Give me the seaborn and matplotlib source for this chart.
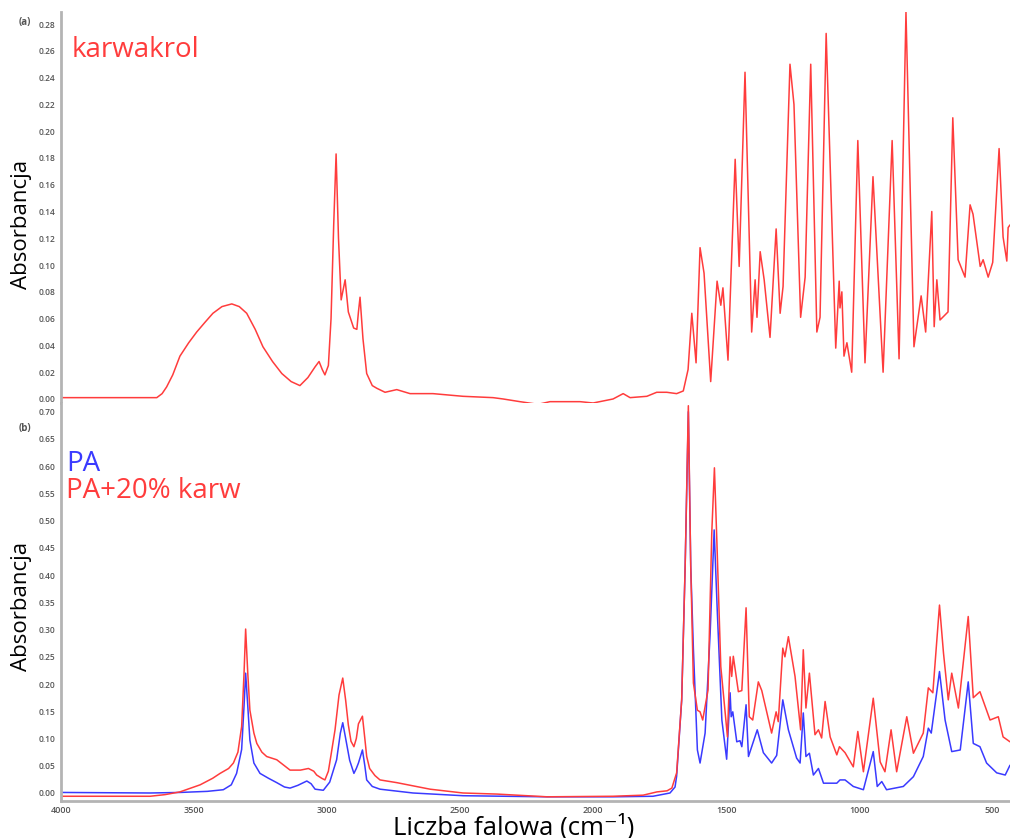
import numpy as np
import pandas as pd
import matplotlib
matplotlib.use("Agg")
import matplotlib.pyplot as plt
from matplotlib.ticker import MultipleLocator, FormatStrFormatter
import seaborn as sns

# ---------------- data (wavenumber cm-1, absorbance) ----------------
karw_wn = [4000, 3853, 3640, 3620, 3603, 3580, 3553, 3520, 3490, 3460, 3429, 3395, 3358, 3330,
           3302, 3270, 3241, 3205, 3170, 3135, 3102, 3072, 3045, 3030, 3018, 3008, 2995, 2985,
           2975, 2966, 2957, 2947, 2932, 2920, 2900, 2888, 2882, 2876, 2865, 2851, 2830, 2813,
           2782, 2738, 2688, 2602,
           2489, 2376, 2338, 2275, 2207, 2162, 2049, 2000, 1925, 1887, 1861, 1798, 1761, 1723,
           1686, 1661, 1643, 1629, 1613, 1598, 1583, 1558, 1534, 1520, 1512, 1493, 1466, 1451,
           1429, 1404, 1391, 1384, 1372, 1357, 1335, 1312, 1297, 1286, 1260, 1245, 1220, 1203,
           1182, 1159, 1147, 1124, 1088, 1075, 1072, 1065, 1057, 1046, 1028, 1005, 978, 948,
           910, 876, 850, 824, 794, 767, 750, 727, 718, 708, 696, 666, 648, 628, 602, 583,
           572, 545, 534, 515, 498, 474, 459, 445, 440, 433]
karw_abs = [0.001, 0.001, 0.001, 0.004, 0.009, 0.018, 0.032, 0.042, 0.050, 0.057, 0.064, 0.069,
            0.071, 0.069, 0.064, 0.052, 0.039, 0.028, 0.019, 0.013, 0.010, 0.016, 0.024, 0.028,
            0.022, 0.018, 0.025, 0.060, 0.130, 0.183, 0.120, 0.074, 0.089, 0.065, 0.053, 0.052,
            0.065, 0.076, 0.045, 0.019, 0.010, 0.008,
            0.005, 0.007, 0.004, 0.004, 0.002, 0.001, 0.000, -0.002, -0.004, -0.002, -0.002,
            -0.003, 0.000, 0.004, 0.001, 0.002, 0.005, 0.005, 0.004, 0.006, 0.022, 0.064,
            0.027, 0.113, 0.094, 0.013, 0.088, 0.070, 0.083, 0.029, 0.179, 0.099, 0.244, 0.050,
            0.089, 0.061, 0.110, 0.089, 0.046, 0.127, 0.064, 0.084, 0.250, 0.220, 0.061, 0.091,
            0.250, 0.050, 0.061, 0.273, 0.038, 0.088, 0.068, 0.080, 0.032, 0.042, 0.020, 0.193,
            0.027, 0.166, 0.020, 0.193, 0.030, 0.289, 0.039, 0.077, 0.050, 0.140, 0.054, 0.089,
            0.059, 0.065, 0.210, 0.104, 0.091, 0.145, 0.138, 0.099, 0.104, 0.091, 0.102, 0.187,
            0.121, 0.103, 0.128, 0.130]

pa20_wn = [4000, 3665, 3609, 3553, 3477, 3430, 3402, 3370, 3352, 3335, 3321, 3312, 3306, 3298,
           3290, 3275, 3264, 3245, 3227, 3189, 3160, 3139, 3100, 3070, 3050, 3039, 3020, 3008,
           2995, 2985, 2970, 2955, 2941, 2930, 2920, 2910, 2899, 2890, 2882, 2867, 2858, 2851,
           2840, 2820, 2801, 2738, 2613, 2489,
           2361, 2173, 1925, 1812, 1760, 1722, 1704, 1686, 1667, 1654, 1642, 1633, 1623, 1608,
           1598, 1588, 1568, 1554, 1544, 1535, 1520, 1495, 1485, 1479, 1473, 1454, 1441, 1425,
           1413, 1400, 1379, 1366, 1329, 1312, 1304, 1287, 1279, 1266, 1241, 1220, 1210, 1200,
           1187, 1166, 1153, 1141, 1128, 1109, 1084, 1074, 1053, 1022, 1005, 984, 947, 921,
           903, 880, 859, 821, 796, 759, 740, 723, 698, 683, 665, 652, 627, 590, 571, 546,
           508, 477, 459, 433]
pa20_abs = [-0.006, -0.006, -0.003, 0.002, 0.015, 0.027, 0.036, 0.045, 0.055, 0.075, 0.122,
            0.220, 0.301, 0.220, 0.152, 0.110, 0.091, 0.075, 0.067, 0.061, 0.050, 0.042, 0.042,
            0.045, 0.040, 0.033, 0.027, 0.024, 0.040, 0.070, 0.116, 0.180, 0.211, 0.170, 0.125,
            0.095, 0.085, 0.100, 0.127, 0.141, 0.100, 0.067, 0.045, 0.032, 0.024, 0.019, 0.007,
            0.000, -0.002, -0.007, -0.006, -0.004, 0.002, 0.004,
            0.009, 0.037, 0.171, 0.416, 0.711, 0.416, 0.202, 0.152, 0.149, 0.134, 0.189, 0.477,
            0.597, 0.465, 0.232, 0.103, 0.250, 0.214, 0.251, 0.186, 0.188, 0.340, 0.140, 0.134,
            0.204, 0.188, 0.110, 0.149, 0.131, 0.266, 0.250, 0.287, 0.214, 0.116, 0.263, 0.156,
            0.220, 0.107, 0.116, 0.101, 0.168, 0.103, 0.070, 0.085, 0.074, 0.048, 0.113, 0.039,
            0.174, 0.057, 0.039, 0.116, 0.039, 0.140, 0.073, 0.110, 0.193, 0.184, 0.345, 0.257,
            0.171, 0.220, 0.156, 0.324, 0.175, 0.186, 0.134, 0.140, 0.103, 0.094]

pa_wn = [4000, 3665, 3553, 3450, 3390, 3360, 3340, 3321, 3312, 3306, 3298, 3290, 3275, 3252,
         3220, 3189, 3160, 3139, 3110, 3076, 3060, 3045, 3014, 2990, 2964, 2950, 2941, 2930,
         2915, 2899, 2890, 2882, 2867, 2858, 2851, 2830, 2801, 2677, 2489, 2173, 1925, 1775,
         1711, 1692,
         1686, 1667, 1654, 1642, 1633, 1623, 1608, 1598, 1579, 1560, 1545, 1533, 1516, 1498,
         1485, 1481, 1475, 1460, 1448, 1441, 1425, 1416, 1383, 1360, 1329, 1310, 1287, 1266,
         1235, 1222, 1210, 1200, 1187, 1172, 1153, 1134, 1084, 1072, 1053, 1022, 984, 947,
         932, 915, 897, 834, 796, 759, 740, 729, 698, 677, 652, 620, 590, 571, 546, 521,
         483, 451, 433]
pa_abs = [0.001, 0.000, 0.001, 0.003, 0.006, 0.015, 0.036, 0.080, 0.160, 0.220, 0.160, 0.097,
          0.055, 0.036, 0.027, 0.019, 0.011, 0.009, 0.014, 0.022, 0.017, 0.007, 0.005, 0.020,
          0.061, 0.110, 0.129, 0.100, 0.060, 0.036, 0.045, 0.055, 0.079, 0.050, 0.024, 0.012,
          0.007, 0.000, -0.005, -0.007, -0.007, -0.006, 0.000, 0.011,
          0.031, 0.171, 0.416, 0.700, 0.416, 0.264, 0.079, 0.055,
          0.110, 0.294, 0.483, 0.331, 0.134, 0.062, 0.184, 0.140, 0.149, 0.094, 0.096, 0.085,
          0.162, 0.067, 0.116, 0.074, 0.055, 0.069, 0.171, 0.116, 0.064, 0.055, 0.147, 0.067,
          0.073, 0.033, 0.045, 0.018, 0.018, 0.024, 0.024, 0.012, 0.006, 0.076, 0.012, 0.021,
          0.006, 0.012, 0.030, 0.067, 0.119, 0.110, 0.223, 0.134, 0.076, 0.079, 0.204, 0.091,
          0.085, 0.055, 0.037, 0.033, 0.051]

top_yticks = [0.00, 0.02, 0.04, 0.06, 0.08, 0.10, 0.12, 0.14, 0.16, 0.18, 0.20, 0.22, 0.24, 0.26, 0.28]
bot_yticks = [0.00, 0.05, 0.10, 0.15, 0.20, 0.25, 0.30, 0.35, 0.40, 0.45, 0.50, 0.55, 0.60, 0.65, 0.70]
xticks = [4000, 3500, 3000, 2500, 2000, 1500, 1000, 500]

RED = "#ff3c3c"
BLUE = "#3a3aff"
GREY = "#555555"
SPINE = "#b4b4b4"

sns.set_style("white")
plt.rcParams["font.family"] = ["Open Sans", "DejaVu Sans"]

W, H = 1010, 838
fig = plt.figure(figsize=(W / 100, H / 100), dpi=100)

def box(x0, y0, x1, y1):
    return [x0 / W, 1 - y1 / H, (x1 - x0) / W, (y1 - y0) / H]

ax1 = fig.add_axes(box(61, 12, 1010, 403))
ax2 = fig.add_axes(box(61, 403, 1010, 801))

df_k = pd.DataFrame({"wn": karw_wn, "A": karw_abs})
df_pa = pd.DataFrame({"wn": pa_wn, "A": pa_abs})
df_p20 = pd.DataFrame({"wn": pa20_wn, "A": pa20_abs})

sns.lineplot(data=df_k, x="wn", y="A", ax=ax1, color=RED, lw=1.1, sort=False, estimator=None)
sns.lineplot(data=df_pa, x="wn", y="A", ax=ax2, color=BLUE, lw=1.1, sort=False, estimator=None)
sns.lineplot(data=df_p20, x="wn", y="A", ax=ax2, color=RED, lw=1.1, sort=False, estimator=None)

for ax in (ax1, ax2):
    ax.set_xlim(4000, 433)
    ax.set_xlabel("")
    ax.set_ylabel("")
    ax.spines["top"].set_visible(False)
    ax.spines["right"].set_visible(False)
    ax.spines["left"].set_color(SPINE)
    ax.spines["left"].set_linewidth(2)
    ax.tick_params(axis="y", direction="out", length=3, width=1, color=GREY,
                   labelsize=6, labelcolor=GREY, pad=1)
    ax.yaxis.set_major_formatter(FormatStrFormatter("%.2f"))

ax1.set_ylim(-0.003, 0.289)
ax1.set_yticks(top_yticks)
ax1.spines["bottom"].set_visible(False)
ax1.set_xticks([])

ax2.set_ylim(-0.0147, 0.716)
ax2.set_yticks(bot_yticks)
ax2.yaxis.set_minor_locator(MultipleLocator(0.01))
ax2.tick_params(axis="y", which="minor", direction="out", length=1.5, width=1, color=GREY)
ax2.spines["bottom"].set_color(SPINE)
ax2.spines["bottom"].set_linewidth(2)
ax2.set_xticks(xticks)
ax2.set_xticklabels([str(t) for t in xticks])
ax2.xaxis.set_minor_locator(MultipleLocator(100))
ax2.tick_params(axis="x", direction="out", length=2.5, width=1, color=GREY,
                labelsize=6.5, labelcolor=GREY, pad=1)
ax2.tick_params(axis="x", which="minor", direction="out", length=1.5, width=1, color=GREY)
for lab in ax1.get_yticklabels() + ax2.get_yticklabels() + ax2.get_xticklabels():
    lab.set_fontweight("semibold")

# texts
fig.text(25 / W, 1 - 22 / H, "(a)", fontsize=7, color=GREY, fontweight="bold", ha="center", va="center")
fig.text(25 / W, 1 - 428 / H, "(b)", fontsize=7, color=GREY, fontweight="bold", ha="center", va="center")
fig.text(72 / W, 1 - 57 / H, "karwakrol", fontsize=20, color=RED, ha="left", va="baseline")
fig.text(66 / W, 1 - 471 / H, "PA", fontsize=20, color=BLUE, ha="left", va="baseline")
fig.text(66 / W, 1 - 498 / H, "PA+20% karw", fontsize=20, color=RED, ha="left", va="baseline")
fig.text(22 / W, 1 - 224 / H, "Absorbancja", fontsize=16, color="black", rotation=90, ha="center", va="center")
fig.text(22 / W, 1 - 606 / H, "Absorbancja", fontsize=16, color="black", rotation=90, ha="center", va="center")
fig.text(514 / W, 1 - 834 / H, "Liczba falowa (cm\u207b\u00b9)", fontsize=18.5, color="black",
         ha="center", va="baseline")

fig.savefig("out.png", dpi=100)
